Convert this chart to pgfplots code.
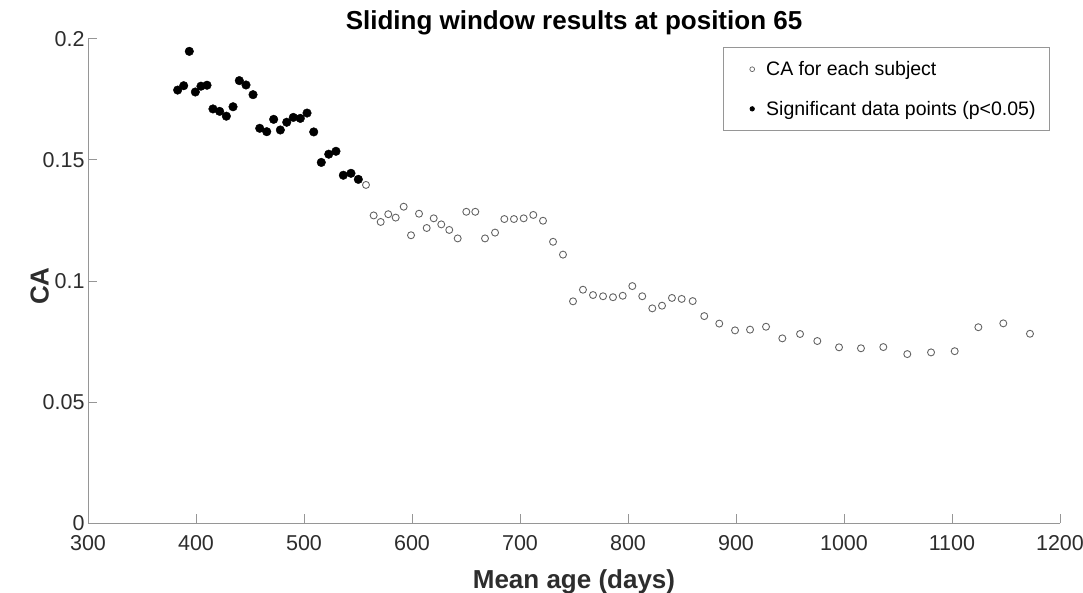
\documentclass[border=0pt]{standalone}
\usepackage{fontspec}
\setmainfont{Liberation Sans}
\usepackage{pgfplots}
\pgfplotsset{compat=1.18}
\usepackage{pgfplotstable}

\definecolor{axgray}{RGB}{150,150,150}
\definecolor{ticktxt}{RGB}{45,45,45}
\definecolor{opengray}{RGB}{100,100,100}

% all subjects that are not significant
\pgfplotstableread{
age ca
557.4 0.1397
564.5 0.1271
571.0 0.1244
578.0 0.1276
584.9 0.1262
592.3 0.1307
599.1 0.1189
606.5 0.1278
613.6 0.1219
620.1 0.1259
627.1 0.1234
634.5 0.1211
642.3 0.1176
650.3 0.1286
658.6 0.1286
667.6 0.1176
676.9 0.1200
685.5 0.1256
694.4 0.1256
703.4 0.1259
712.3 0.1273
721.3 0.1249
730.6 0.1162
739.8 0.1109
749.1 0.0916
758.3 0.0964
767.6 0.0942
776.9 0.0937
786.1 0.0933
795.1 0.0939
804.0 0.0979
813.2 0.0937
822.5 0.0887
831.5 0.0898
840.7 0.0930
849.7 0.0926
859.9 0.0917
870.6 0.0855
884.5 0.0824
899.1 0.0796
913.0 0.0799
927.8 0.0811
942.9 0.0763
959.3 0.0781
975.3 0.0752
995.4 0.0726
1015.7 0.0722
1036.4 0.0727
1058.6 0.0698
1080.6 0.0705
1102.5 0.0710
1124.4 0.0809
1147.5 0.0825
1172.2 0.0782
}\opendata

% significant points (p<0.05)
\pgfplotstableread{
age ca
383.0 0.1789
388.6 0.1807
393.8 0.1949
399.4 0.1781
404.6 0.1805
410.2 0.1809
415.7 0.1711
421.9 0.1701
428.1 0.1681
434.3 0.1720
440.1 0.1828
446.3 0.1810
452.8 0.1770
459.0 0.1631
465.5 0.1617
471.9 0.1668
478.1 0.1624
484.0 0.1656
490.1 0.1676
496.6 0.1672
502.8 0.1694
509.0 0.1616
516.0 0.1490
522.9 0.1524
529.6 0.1536
536.4 0.1437
543.5 0.1445
550.3 0.1420
}\sigdata

\begin{document}
\begin{tikzpicture}
\path[use as bounding box] (-88pt,-69pt) rectangle (995pt,523pt);
\begin{axis}[
    scale only axis,
    width=972pt, height=484pt,
    xmin=300, xmax=1200, ymin=0, ymax=0.2,
    xtick={300,400,...,1200},
    ytick={0,0.05,0.1,0.15,0.2},
    yticklabels={0,0.05,0.1,0.15,0.2},
    xticklabel style={/pgf/number format/1000 sep={}},
    /pgf/number format/assume math mode=true,
    axis x line=bottom, axis y line=left,
    axis line style={-, draw=axgray, line width=1pt},
    tick style={draw=axgray, line width=1pt},
    tick align=inside,
    major tick length=9pt,
    ticklabel style={font=\fontsize{21.5}{24}\selectfont, text=ticktxt},
    xticklabel style={yshift=-9pt},
    title={\bfseries Sliding window results at position 65},
    title style={font=\fontsize{26}{30}\selectfont, yshift=-6pt},
    xlabel={\bfseries Mean age (days)},
    xlabel style={yshift=-12pt},
    ylabel={\bfseries CA},
    ylabel style={yshift=-13pt, xshift=-5pt},
    label style={font=\fontsize{26}{30}\selectfont, text=ticktxt},
    legend style={at={(1,1)}, anchor=north east, xshift=-10pt, yshift=-8pt,
        draw=axgray, line width=0.8pt, font=\fontsize{19.5}{22}\selectfont,
        inner xsep=12pt, inner ysep=12pt, row sep=20pt, column sep=9pt},
    legend cell align=left,
]
\addplot[only marks, mark=o, mark size=3.5pt, mark options={draw=opengray, line width=0.9pt},
    legend image code/.code={\path[draw=none] (-17pt,-1pt) rectangle (3pt,1pt);
        \draw[opengray, line width=0.7pt] (0pt,0pt) circle (2.4pt);}]
    table[x=age, y=ca] {\opendata};
\addlegendentry{CA for each subject}
\addplot[only marks, mark=*, mark size=4.3pt, mark options={fill=black, draw=black},
    legend image code/.code={\path[draw=none] (-17pt,-1pt) rectangle (3pt,1pt);
        \fill[black] (0pt,0pt) circle (2.2pt);}]
    table[x=age, y=ca] {\sigdata};
\addlegendentry{Significant data points (p<0.05)}
\end{axis}
\end{tikzpicture}
\end{document}
